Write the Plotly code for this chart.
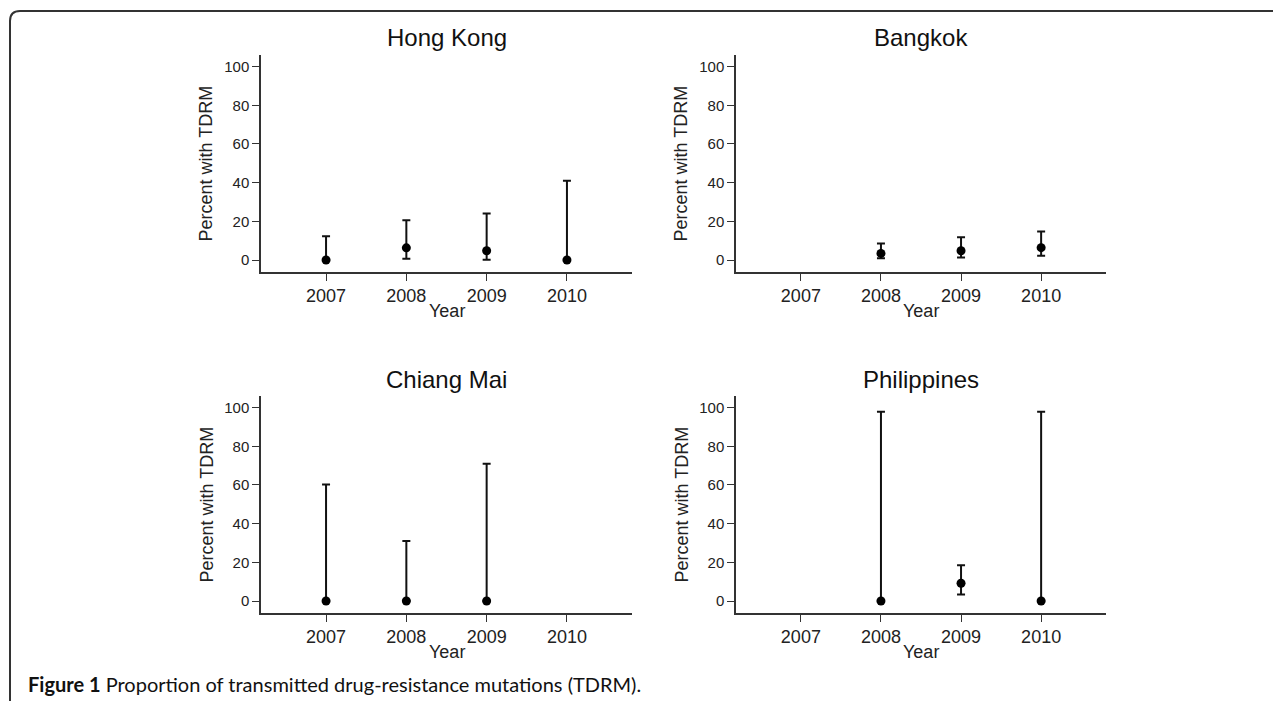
import plotly.graph_objects as go

W, H = 1281, 701
OFF = 8  # page body margin in the browser

years = [2007, 2008, 2009, 2010]
y_ticks = [0, 20, 40, 60, 80, 100]

panels = ["Hong Kong", "Bangkok", "Chiang Mai", "Philippines"]

# point estimates and 95% CI (None = no data)
hk_est = [0.0, 6.3, 4.8, 0.0]
hk_lo = [0.0, 0.6, 0.1, 0.0]
hk_hi = [12.3, 20.6, 24.0, 41.0]

bkk_est = [None, 3.4, 4.8, 6.4]
bkk_lo = [None, 0.9, 1.3, 2.2]
bkk_hi = [None, 8.6, 11.8, 14.8]

cm_est = [0.0, 0.0, 0.0, None]
cm_lo = [0.0, 0.0, 0.0, None]
cm_hi = [60.2, 31.0, 71.0, None]

ph_est = [None, 0.0, 9.2, 0.0]
ph_lo = [None, 0.0, 3.4, 0.0]
ph_hi = [None, 97.8, 18.5, 97.8]

data = [
    (hk_est, hk_lo, hk_hi),
    (bkk_est, bkk_lo, bkk_hi),
    (cm_est, cm_lo, cm_hi),
    (ph_est, ph_lo, ph_hi),
]

caption_bold = "Figure 1"
caption_text = " Proportion of transmitted drug-resistance mutations (TDRM)."


def px_x(x):
    return (x - OFF) / W


def px_y(y):
    return (H - (y - OFF)) / H


# panel boxes in page pixels: (left, right, top, bottom)
boxes = [
    (261, 632, 55, 272),
    (736, 1106, 55, 272),
    (261, 632, 396, 613),
    (736, 1106, 396, 613),
]

fig = go.Figure()
layout = dict(
    width=W, height=H,
    margin=dict(l=0, r=0, t=0, b=0),
    paper_bgcolor="white", plot_bgcolor="white",
    showlegend=False,
    font=dict(family="Liberation Sans, Arial, sans-serif", color="#222"),
)
annotations = []

AX_COLOR = "#333"
for i, (name, (est, lo, hi), box) in enumerate(zip(panels, data, boxes)):
    n = i + 1
    xs, ys, up, dn = [], [], [], []
    for yr, e, l, h in zip(years, est, lo, hi):
        if e is None:
            continue
        xs.append(yr)
        ys.append(e)
        up.append(h - e)
        dn.append(e - l)
    xa = "x" if n == 1 else f"x{n}"
    ya = "y" if n == 1 else f"y{n}"
    fig.add_trace(go.Scatter(
        x=xs, y=ys, mode="markers", xaxis=xa, yaxis=ya,
        marker=dict(color="black", size=9),
        error_y=dict(type="data", symmetric=False, array=up, arrayminus=dn,
                     color="#111", thickness=2, width=4),
        hoverinfo="skip",
    ))
    left, right, top, bottom = box
    xkey = "xaxis" if n == 1 else f"xaxis{n}"
    ykey = "yaxis" if n == 1 else f"yaxis{n}"
    layout[xkey] = dict(
        domain=[px_x(left), px_x(right)], anchor=ya,
        range=[2006.19, 2010.81], tickvals=years, ticktext=[str(y) for y in years],
        showline=True, linecolor=AX_COLOR, linewidth=1.5,
        ticks="outside", ticklen=7, tickwidth=1.3, tickcolor=AX_COLOR,
        showgrid=False, zeroline=False, fixedrange=True,
        tickfont=dict(size=18, color="#222"),
    )
    layout[ykey] = dict(
        domain=[px_y(bottom), px_y(top)], anchor=xa,
        range=[-6.2, 106], tickvals=y_ticks,
        showline=True, linecolor=AX_COLOR, linewidth=1.5,
        ticks="outside", ticklen=7, tickwidth=1.3, tickcolor=AX_COLOR,
        showgrid=False, zeroline=False, fixedrange=True,
        tickfont=dict(size=15, color="#222"),
    )
    cx = (left + right) / 2
    # panel title
    annotations.append(dict(
        text=name, x=px_x(cx), y=px_y(top - 17), xref="paper", yref="paper",
        xanchor="center", yanchor="middle", showarrow=False,
        font=dict(size=24, color="#111"),
    ))
    # y axis title
    annotations.append(dict(
        text="Percent with TDRM", x=px_x(left - 55), y=px_y((top + bottom) / 2),
        xref="paper", yref="paper", xanchor="center", yanchor="middle",
        textangle=-90, showarrow=False, font=dict(size=18, color="#222"),
    ))
    # x axis title
    annotations.append(dict(
        text="Year", x=px_x(cx), y=px_y(bottom + 39), xref="paper", yref="paper",
        xanchor="center", yanchor="middle", showarrow=False,
        font=dict(size=18, color="#222"),
    ))

annotations.append(dict(
    text=f"<b>{caption_bold}</b>{caption_text}",
    x=px_x(26), y=px_y(684), xref="paper", yref="paper",
    xanchor="left", yanchor="middle", showarrow=False,
    font=dict(family="Lato, Liberation Sans, sans-serif", size=20, color="#111"),
))

# rounded frame (top-left corner visible)
x0, y0, r = 10, 11, 10
path = (f"M {px_x(x0)},{px_y(H + 30)} L {px_x(x0)},{px_y(y0 + r)} "
        f"Q {px_x(x0)},{px_y(y0)} {px_x(x0 + r)},{px_y(y0)} "
        f"L {px_x(W + 30)},{px_y(y0)}")
layout["shapes"] = [dict(type="path", path=path, xref="paper", yref="paper",
                         line=dict(color="#333", width=2))]
layout["annotations"] = annotations

fig.update_layout(**layout)
fig.write_html("out.html")
